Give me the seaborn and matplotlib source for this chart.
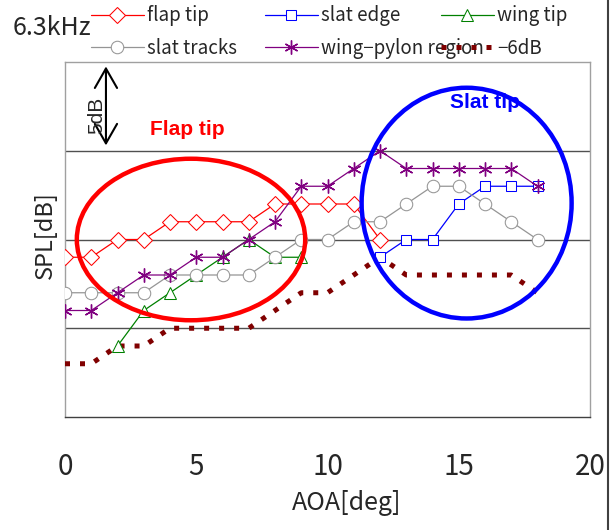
import matplotlib.pyplot as plt
import seaborn as sns
from matplotlib.patches import Ellipse
from matplotlib.lines import Line2D

# 1. Data (relative SPL in dB, grid every 5 dB)
aoa_flap = list(range(0, 13))
spl_flap = [9, 9, 10, 10, 11, 11, 11, 11, 12, 12, 12, 12, 10]

aoa_slat_edge = list(range(12, 19))
spl_slat_edge = [9, 10, 10, 12, 13, 13, 13]

aoa_wing = list(range(2, 10))
spl_wing = [4, 6, 7, 8, 9, 10, 9, 9]

aoa_all = list(range(0, 19))
spl_slat_tracks = [7, 7, 7, 7, 8, 8, 8, 8, 9, 10, 10, 11, 11, 12, 13, 13, 12, 11, 10]
spl_pylon = [6, 6, 7, 8, 8, 9, 9, 10, 11, 13, 13, 14, 15, 14, 14, 14, 14, 14, 13]
spl_minus6 = [3, 3, 4, 4, 5, 5, 5, 5, 6, 7, 7, 8, 9, 8, 8, 8, 8, 8, 7]

x_ticks = [0, 5, 10, 15, 20]
y_grid = [5, 10, 15]

# 2. Plotting
sns.set_theme(style="white")
plt.rcParams['font.family'] = ['Noto Sans CJK JP', 'DejaVu Sans']

fig = plt.figure(figsize=(6.14, 5.30), dpi=100)
ax = fig.add_axes([65 / 614, 113 / 530, 525 / 614, 355 / 530])

common = dict(ax=ax, errorbar=None, markerfacecolor='white', zorder=4)
sns.lineplot(x=aoa_flap, y=spl_flap, label='flap tip', color='red', marker='D',
             markersize=8, markeredgecolor='red', linewidth=0.9, **common)
sns.lineplot(x=aoa_slat_edge, y=spl_slat_edge, label='slat edge', color='blue', marker='s',
             markersize=7, markeredgecolor='blue', linewidth=0.9, **common)
sns.lineplot(x=aoa_wing, y=spl_wing, label='wing tip', color='green', marker='^',
             markersize=8, markeredgecolor='green', linewidth=0.9, **common)
sns.lineplot(x=aoa_all, y=spl_slat_tracks, label='slat tracks', color='#959595', marker='o',
             markersize=9, markeredgecolor='#959595', linewidth=0.9, **common)
sns.lineplot(x=aoa_all, y=spl_pylon, label='wing\u2212pylon region', color='purple', marker=(6, 2, 0),
             markersize=10, markeredgecolor='purple', markeredgewidth=1.0, linewidth=0.9, **common)
sns.lineplot(x=aoa_all, y=spl_minus6, label='\u22126dB', color='#800000', ax=ax, errorbar=None,
             linestyle=(0, (1, 2)), linewidth=3.6, dash_capstyle='butt', zorder=3)

# Highlight regions
ax.add_patch(Ellipse((4.8, 10.0), 8.7, 9.1, fill=False, edgecolor='red', lw=3.2, zorder=5))
ax.add_patch(Ellipse((15.3, 12.05), 8.0, 13.0, fill=False, edgecolor='blue', lw=3.2, zorder=5))
ax.text(3.25, 16.2, 'Flap tip', color='red', fontsize=15, fontweight='bold',
        family='Liberation Sans', va='center')
ax.text(16.0, 17.7, 'Slat tip', color='blue', fontsize=15, fontweight='bold',
        family='Liberation Sans', ha='center', va='center')

# 5 dB scale arrow
ax.annotate('', xy=(1.56, 19.75), xytext=(1.56, 15.3),
            arrowprops=dict(arrowstyle='<->,head_length=0.7,head_width=0.4', color='black',
                            lw=1.5, mutation_scale=20, shrinkA=0, shrinkB=0))
ax.text(1.22, 17.0, '5dB', rotation=90, fontsize=15, family='Liberation Sans',
        ha='center', va='center')

# Axes styling
ax.set_xlim(0, 20)
ax.set_ylim(0, 20)
ax.set_xticks(x_ticks)
ax.set_yticks(y_grid)
ax.tick_params(axis='y', length=0, labelleft=False)
ax.tick_params(axis='x', direction='in', length=5, width=1, color='#404040', labelsize=20, pad=25)
ax.yaxis.grid(True, color='#505050', linewidth=1)
ax.xaxis.grid(False)
for side in ['left', 'right', 'top']:
    ax.spines[side].set_color('#a0a0a0')
ax.spines['bottom'].set_color('#404040')
for sp in ax.spines.values():
    sp.set_linewidth(1)

ax.set_xlabel('AOA[deg]', fontsize=18)
ax.xaxis.set_label_coords(0.537, -0.205)
ax.set_ylabel('SPL[dB]', fontsize=17)
ax.yaxis.set_label_coords(-0.015, 0.513)

# Legend laid out in three columns across the top
ax.get_legend().remove()
handles, labels = ax.get_legend_handles_labels()
lookup = dict(zip(labels, handles))
columns = [(['flap tip', 'slat tracks'], 91),
           (['slat edge', 'wing\u2212pylon region'], 265),
           (['wing tip', '\u22126dB'], 441)]
for col_labels, px in columns:
    fig.legend(handles=[lookup[l] for l in col_labels], labels=col_labels,
               loc='upper left', bbox_to_anchor=(px / 614, 0.99), frameon=False,
               fontsize=13.5, handlelength=2.8, handletextpad=0.2, labelspacing=0.6,
               borderpad=0, borderaxespad=0)

fig.text(13 / 614, 1 - 28 / 530, '6.3kHz', fontsize=18, va='center', ha='left')
fig.add_artist(Line2D([0.99, 0.99], [0, 1], transform=fig.transFigure, color='#404040', lw=1.5))

plt.savefig('out.png', dpi=100)
